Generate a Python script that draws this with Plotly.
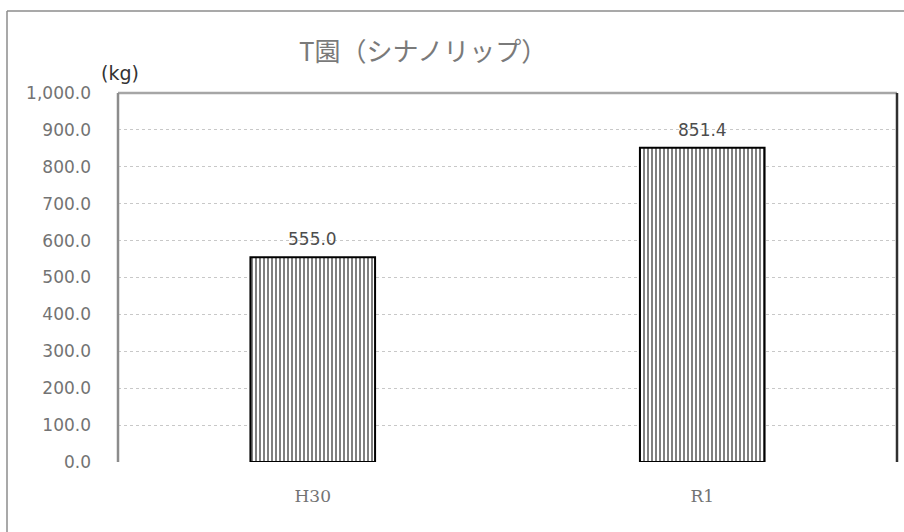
import plotly.graph_objects as go

categories = ["H30", "R1"]
values = [555.0, 851.4]
value_labels = ["555.0", "851.4"]
y_ticks = [0, 100, 200, 300, 400, 500, 600, 700, 800, 900, 1000]
y_tick_labels = ["0.0", "100.0", "200.0", "300.0", "400.0", "500.0", "600.0",
                 "700.0", "800.0", "900.0", "1,000.0"]
title_text = "T園（シナノリップ）"
unit_text = "(kg)"

W, H = 904, 532
L, R, T, B = 118, 7, 93, 70
pw, ph = W - L - R, H - T - B

TEXT_GRAY = "#737373"
FONT = "DejaVu Sans"

fig = go.Figure()
fig.add_trace(go.Bar(
    x=categories, y=values,
    marker=dict(
        color="white",
        line=dict(color="#000000", width=2),
        pattern=dict(shape="|", fgcolor="#000000", bgcolor="white",
                     size=4, solidity=0.5, fillmode="overlay"),
    ),
    hoverinfo="skip",
))

for c, v, t in zip(categories, values, value_labels):
    fig.add_annotation(x=c, y=v, text=t, showarrow=False, yanchor="bottom",
                       yshift=6, font=dict(family=FONT, size=17, color="#4d4d4d"))

def px_x(p):
    return (p - L) / pw

def px_y(p):
    return 1 - (p - T) / ph

shapes = [
    # outer chart frame (left and top visible)
    dict(type="line", xref="paper", yref="paper", x0=px_x(7), x1=px_x(7),
         y0=px_y(11), y1=px_y(540), line=dict(color="#8c8c8c", width=1.5)),
    dict(type="line", xref="paper", yref="paper", x0=px_x(7), x1=px_x(910),
         y0=px_y(11), y1=px_y(11), line=dict(color="#8c8c8c", width=1.5)),
    # plot area border
    dict(type="line", xref="paper", yref="paper", x0=0, x1=1, y0=1, y1=1,
         line=dict(color="#a6a6a6", width=2.5)),
    dict(type="line", xref="paper", yref="paper", x0=0, x1=0, y0=0, y1=1,
         line=dict(color="#8c8c8c", width=2.5)),
    dict(type="line", xref="paper", yref="paper", x0=1, x1=1, y0=0, y1=1,
         line=dict(color="#303030", width=2.5)),
]

fig.update_layout(
    width=W, height=H,
    margin=dict(l=L, r=R, t=T, b=B),
    paper_bgcolor="white", plot_bgcolor="white",
    showlegend=False,
    bargap=0.68,
    shapes=shapes,
    font=dict(family=FONT, color=TEXT_GRAY),
    annotations=list(fig.layout.annotations) + [
        dict(text=title_text, xref="paper", yref="paper", x=px_x(423), y=px_y(49),
             xanchor="center", yanchor="middle", showarrow=False,
             font=dict(family="Noto Sans CJK JP", size=26, color="#7a7a7a")),
        dict(text=unit_text, xref="paper", yref="paper", x=px_x(99), y=px_y(73),
             xanchor="left", yanchor="middle", showarrow=False,
             font=dict(family=FONT, size=19, color="#333333")),
    ],
    xaxis=dict(
        type="category", range=[-0.5, 1.5],
        showline=False, showgrid=False, zeroline=False,
        ticks="", ticklabelstandoff=22,
        tickfont=dict(family="DejaVu Serif", size=17, color=TEXT_GRAY),
    ),
    yaxis=dict(
        range=[0, 1000], tickvals=y_ticks, ticktext=y_tick_labels,
        showline=False, zeroline=False,
        showgrid=True, gridcolor="#c8c8c8", griddash="dot", gridwidth=1,
        ticks="", ticklabelstandoff=26,
        tickfont=dict(family=FONT, size=17, color=TEXT_GRAY),
    ),
)

fig.write_html("out.html")
